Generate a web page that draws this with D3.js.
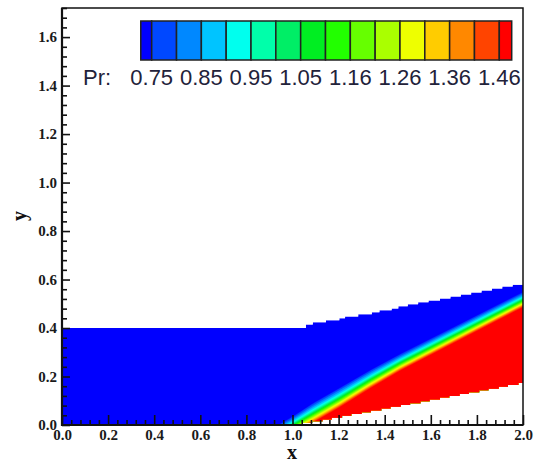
<!DOCTYPE html>
<html><head><meta charset="utf-8">
<script src="https://cdn.jsdelivr.net/npm/d3@7"></script>
<style>
html,body{margin:0;padding:0;background:#fff;}
svg{display:block;}
</style></head>
<body>
<svg id="c" width="536" height="465"></svg>
<script>
// ---------------- data ----------------
const levels = [0.75,0.80,0.85,0.90,0.95,1.00,1.05,1.11,1.16,1.21,1.26,1.31,1.36,1.41,1.46];
const legendLabels = ["0.75","0.85","0.95","1.05","1.16","1.26","1.36","1.46"];
const bandColors = ["#0000ff","#0048ff","#0088ff","#00c4ff","#00ffee","#00ffaa","#00ee66","#00ee22",
                    "#22ff00","#66ff00","#aaff00","#eeff00","#ffcc00","#ff8800","#ff4400","#ff0000"];
const xMajorTicks = [0,0.2,0.4,0.6,0.8,1.0,1.2,1.4,1.6,1.8,2.0];
const yMajorTicks = [0,0.2,0.4,0.6,0.8,1.0,1.2,1.4,1.6];
// upper boundary of the flow domain (stair-stepped cells)
const topX = [0,1.058,1.088,1.145,1.203,1.228,1.285,1.344,1.377,1.430,1.459,1.50,1.545,1.59,1.64,1.685,1.73,1.775,1.82,1.865,1.91,1.955,2.0];
const topY = [0.4,0.415,0.4235,0.432,0.440,0.448,0.4565,0.465,0.473,0.481,0.4895,0.498,0.506,0.514,0.522,0.530,0.538,0.547,0.555,0.563,0.571,0.579,0.579];
// lower wall (ramp) of the flow domain
const botX = [0,1.00,1.045,1.085,1.13,1.17,1.215,1.255,1.30,1.34,1.385,1.425,1.47,1.51,1.555,1.595,1.64,1.68,1.725,1.765,1.81,1.85,1.895,1.935,1.98,2.0];
const botY = [0,0.000,0.008,0.015,0.023,0.030,0.038,0.045,0.053,0.060,0.068,0.075,0.083,0.090,0.098,0.105,0.113,0.120,0.128,0.135,0.143,0.150,0.158,0.165,0.173,0.173];
// oblique shock: centre line and relative thickness
const shockX = [0.90,1.00,1.09,1.20,1.34,1.467,1.70,2.00,2.10];
const shockY = [-0.055,0.000,0.050,0.110,0.190,0.258,0.371,0.517,0.566];
const shockW = [1.1,1.1,1.3,1.3,1.2,1.1,1.05,1.0,1.0];
// offset (in y) of each contour level from the shock centre line
const levelOffset = [0.0299,0.0237,0.0175,0.0122,0.0076,0.0035,-0.0002,-0.0039,-0.0076,-0.0113,-0.0151,-0.0188,-0.0225,-0.0262,-0.0299];

// ---------------- layout ----------------
const svg = d3.select("#c");
const x = d3.scaleLinear([0,2],[62,523]);
const y = d3.scaleLinear([0,1.72],[425,8]);

function stepPts(xs, ys){
  const p=[];
  for(let i=0;i<xs.length;i++){
    p.push([xs[i], ys[i]]);
    if(i<xs.length-1) p.push([xs[i+1], ys[i]]);
  }
  return p;
}
const topPts = stepPts(topX, topY);
const botPts = stepPts(botX, botY);
const domainPts = topPts.concat(botPts.slice().reverse());
const line = d3.line().x(d=>x(d[0])).y(d=>y(d[1]));

const defs = svg.append("defs");
defs.append("clipPath").attr("id","dom").append("path").attr("d", line(domainPts)+"Z");
defs.append("clipPath").attr("id","plot").append("rect")
  .attr("x",x(0)).attr("y",y(1.72)).attr("width",x(2)-x(0)).attr("height",y(0)-y(1.72));

const field = svg.append("g").attr("clip-path","url(#plot)").append("g").attr("clip-path","url(#dom)");
field.append("path").attr("d", line(domainPts)+"Z").attr("fill", bandColors[0]);
levels.forEach((lv,k)=>{
  const pts = shockX.map((sx,i)=>[sx, shockY[i] + levelOffset[k]*shockW[i]]);
  const last = pts[pts.length-1], first = pts[0];
  const poly = pts.concat([[last[0]+0.1,last[1]],[last[0]+0.1,-1],[first[0],-1]]);
  field.append("path").attr("d", line(poly)+"Z").attr("fill", bandColors[k+1])
    .attr("stroke", bandColors[k+1]).attr("stroke-width",0.3);
});

// ---------------- axes ----------------
const tickFont = "'Liberation Serif','Times New Roman',serif";
const xMinor = d3.range(0,2.0001,0.04).filter(v=>!xMajorTicks.some(m=>Math.abs(m-v)<1e-6));
const yMinor = d3.range(0,1.7201,0.04).filter(v=>!yMajorTicks.some(m=>Math.abs(m-v)<1e-6));

const gx = svg.append("g").attr("transform",`translate(0,${y(0)})`)
  .call(d3.axisBottom(x).tickValues(xMajorTicks).tickFormat(d3.format(".1f")).tickSizeInner(-10).tickSizeOuter(0).tickPadding(4));
const gxm = svg.append("g").attr("transform",`translate(0,${y(0)})`)
  .call(d3.axisBottom(x).tickValues(xMinor).tickFormat("").tickSizeInner(-5).tickSizeOuter(0));
const gy = svg.append("g").attr("transform",`translate(${x(0)},0)`)
  .call(d3.axisLeft(y).tickValues(yMajorTicks).tickFormat(d3.format(".1f")).tickSizeInner(-8).tickSizeOuter(0).tickPadding(5));
const gym = svg.append("g").attr("transform",`translate(${x(0)},0)`)
  .call(d3.axisLeft(y).tickValues(yMinor).tickFormat("").tickSizeInner(-5).tickSizeOuter(0));
[gx,gxm,gy,gym].forEach(g=>{
  g.select(".domain").remove();
  g.selectAll(".tick line").attr("stroke","#111").attr("stroke-width",1.6);
  g.selectAll(".tick text").attr("font-family",tickFont).attr("font-weight","bold")
    .attr("font-size",15).attr("fill","#1a1a1a");
});

// frame
svg.append("rect").attr("x",x(0)).attr("y",y(1.72)).attr("width",x(2)-x(0)).attr("height",y(0)-y(1.72))
  .attr("fill","none").attr("stroke","#111").attr("stroke-width",1.5);
svg.append("line").attr("x1",x(0)).attr("x2",x(0)).attr("y1",y(1.72)).attr("y2",y(0)+1).attr("stroke","#111").attr("stroke-width",2.2);
svg.append("line").attr("x1",x(0)-1).attr("x2",x(2)).attr("y1",y(0)).attr("y2",y(0)).attr("stroke","#111").attr("stroke-width",2.2);

// axis titles
svg.append("text").attr("x",292).attr("y",459).attr("text-anchor","middle")
  .attr("font-family",tickFont).attr("font-weight","bold").attr("font-size",20).attr("fill","#111").text("x");
svg.append("text").attr("transform","translate(26,216) rotate(-90)").attr("text-anchor","middle")
  .attr("font-family",tickFont).attr("font-weight","bold").attr("font-size",20).attr("fill","#111").text("y");

// ---------------- legend ----------------
const lg = svg.append("g");
const lx = d3.scaleLinear([0,14],[151.7,499.3]);
const cellEdges = [-0.44].concat(d3.range(0,15), [14.5]);
bandColors.forEach((c,i)=>{
  lg.append("rect").attr("x",lx(cellEdges[i])).attr("y",21)
    .attr("width",lx(cellEdges[i+1])-lx(cellEdges[i])).attr("height",39)
    .attr("fill",c).attr("stroke","#222").attr("stroke-width",1.5);
});
const legFont = "'Liberation Sans',Arial,sans-serif";
lg.selectAll("text.lab").data(legendLabels).join("text").attr("class","lab")
  .attr("x",(d,i)=>lx(i*2)).attr("y",85).attr("text-anchor","middle")
  .attr("font-family",legFont).attr("font-size",22).attr("fill","#22223a").text(d=>d);
lg.append("text").attr("x",83).attr("y",85).attr("font-family",legFont).attr("font-size",22)
  .attr("fill","#22223a").text("Pr:");
</script>
</body></html>
